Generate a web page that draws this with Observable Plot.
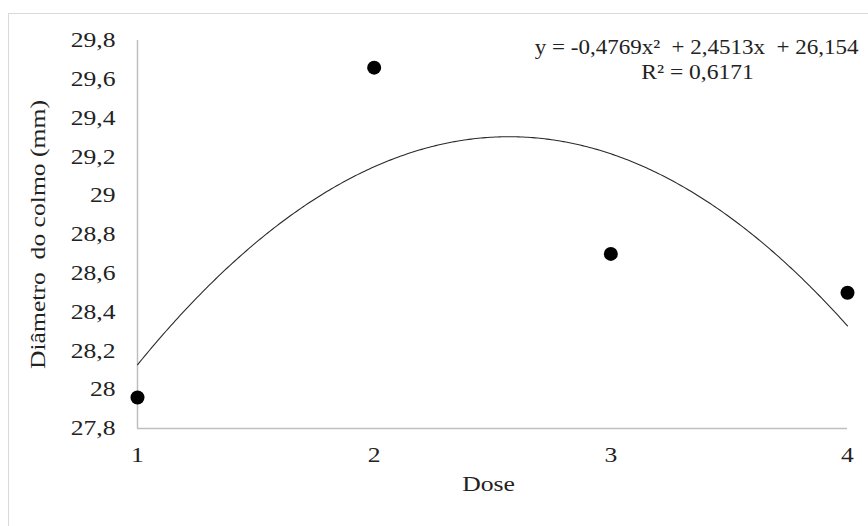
<!DOCTYPE html>
<html>
<head>
<meta charset="utf-8">
<script src="https://cdn.jsdelivr.net/npm/d3@7"></script>
<script src="https://cdn.jsdelivr.net/npm/@observablehq/plot@0.6"></script>
<style>
  html, body { margin: 0; padding: 0; background: #fff; }
  #wrap { position: relative; width: 868px; height: 526px; overflow: hidden; }
  #border { position: absolute; left: 8px; top: 13px; width: 880px; height: 530px; border: 1.5px solid #d9d9d9; box-sizing: border-box; }
  #chart { position: absolute; left: 0; top: 0; }
</style>
</head>
<body>
<div id="wrap"><div id="border"></div><div id="chart"></div></div>
<script>
const doses = [1, 2, 3, 4];
const diametro = [27.96, 29.66, 28.70, 28.50];
const coef = [-0.4769, 2.4513, 26.154]; // a, b, c from the equation shown
const yTicks = [27.8, 28, 28.2, 28.4, 28.6, 28.8, 29, 29.2, 29.4, 29.6, 29.8];
const xTicks = [1, 2, 3, 4];
const eqLabel = "y = -0,4769x²  + 2,4513x  + 26,154";
const r2Label = "R² = 0,6171";
const yTitle = "Diâmetro  do colmo (mm)";
const xTitle = "Dose";

const points = doses.map((d, i) => ({dose: d, y: diametro[i]}));
const trend = d3.range(0, 301).map(i => {
  const x = 1 + i * 0.01;
  return {dose: x, y: coef[0] * x * x + coef[1] * x + coef[2]};
});

const fmt = v => String(+v.toFixed(1)).replace(".", ",");
const font = "Liberation Serif, Times New Roman, serif";
const fs = 21;

const chart = Plot.plot({
  width: 868,
  height: 526,
  marginLeft: 137,
  marginRight: 21,
  marginTop: 40,
  marginBottom: 98,
  style: {fontFamily: font, fontSize: fs + "px", color: "#222", background: "transparent"},
  x: {domain: [1, 4], ticks: xTicks, tickFormat: d => String(d), tickSize: 0, tickPadding: 19, label: null},
  y: {domain: [27.8, 29.8], ticks: yTicks, tickFormat: fmt, tickSize: 0, tickPadding: 22, label: null},
  marks: [
    Plot.ruleX([1], {stroke: "#bfbfbf", strokeWidth: 1.5}),
    Plot.ruleY([27.8], {stroke: "#bfbfbf", strokeWidth: 1.5}),
    Plot.line(trend, {x: "dose", y: "y", stroke: "#2a2a2a", strokeWidth: 1.1}),
    Plot.dot(points, {x: "dose", y: "y", r: 7, fill: "#000", stroke: "none"}),
    Plot.text([eqLabel], {frameAnchor: "top-right", dx: 11, dy: -1, text: d => d, textAnchor: "end", fill: "#222", fontSize: fs, className: "eq"}),
    Plot.text([r2Label], {frameAnchor: "top-right", dx: -150, dy: 24, text: d => d, textAnchor: "middle", fill: "#222", fontSize: fs, className: "r2"}),
    Plot.text([yTitle], {frameAnchor: "left", dx: -99, rotate: -90, textAnchor: "middle", text: d => d, fill: "#222", fontSize: fs}),
    Plot.text([xTitle], {frameAnchor: "bottom", dx: -4, dy: 62, text: d => d, fill: "#222", fontSize: fs})
  ]
});
document.getElementById("chart").appendChild(chart);
// widen the serif glyphs to match the reference's wide Times-like lettering
chart.querySelectorAll("text").forEach(t => {
  const len = t.getComputedTextLength();
  if (len > 0) {
    let k = 1.22;
    if (t.closest(".eq")) k = 1.095;
    else if (t.closest(".r2")) k = 1.12;
    t.setAttribute("textLength", (len * k).toFixed(1));
    t.setAttribute("lengthAdjust", "spacingAndGlyphs");
  }
});
</script>
</body>
</html>
